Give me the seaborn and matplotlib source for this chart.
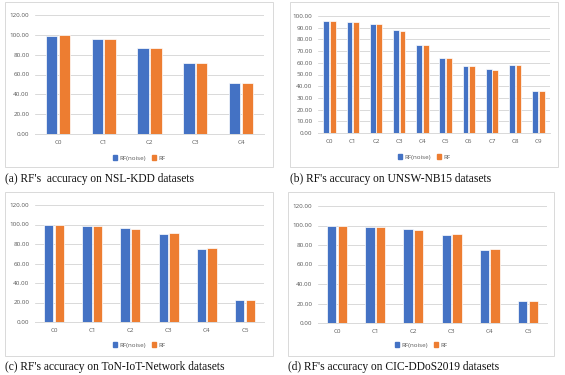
import seaborn as sns
import matplotlib.pyplot as plt
import pandas as pd
from matplotlib.patches import Rectangle, Patch

# accuracy per class
nsl_classes = ['C0', 'C1', 'C2', 'C3', 'C4']
nsl_noise = [99.0, 96.0, 86.8, 72.0, 51.8]
nsl_rf = [99.7, 96.0, 86.8, 72.0, 51.8]

unsw_classes = ['C0', 'C1', 'C2', 'C3', 'C4', 'C5', 'C6', 'C7', 'C8', 'C9']
unsw_noise = [95.5, 95.0, 93.3, 88.1, 75.6, 64.1, 57.6, 54.4, 58.4, 36.0]
unsw_rf = [95.5, 94.7, 93.2, 87.6, 75.2, 64.2, 57.6, 54.2, 58.5, 36.0]

ton_classes = ['C0', 'C1', 'C2', 'C3', 'C4', 'C5']
ton_noise = [99.9, 98.0, 96.0, 90.2, 74.8, 22.6]
ton_rf = [99.9, 98.0, 95.6, 91.2, 76.2, 22.6]

cic_classes = ['C0', 'C1', 'C2', 'C3', 'C4', 'C5']
cic_noise = [99.9, 98.0, 96.0, 90.0, 74.8, 22.6]
cic_rf = [99.9, 98.3, 95.6, 91.2, 76.3, 22.6]

series_names = ['RF(noise)', 'RF']
captions = ["(a) RF's  accuracy on NSL-KDD datasets",
            "(b) RF's accuracy on UNSW-NB15 datasets",
            "(c) RF's accuracy on ToN-IoT-Network datasets",
            "(d) RF's accuracy on CIC-DDoS2019 datasets"]

BLUE, ORANGE = '#4472C4', '#ED7D31'
GRID = '#D9D9D9'
TXT = '#595959'
W, H = 565, 375

sns.set_theme(style='white')
plt.rcParams['font.family'] = ['Open Sans', 'DejaVu Sans']

fig = plt.figure(figsize=(W / 100, H / 100), dpi=100)


def px_box(l, t, r, b):
    # pixel box (top-left origin) -> figure fraction
    return [l / W, 1 - b / H, (r - l) / W, (b - t) / H]


panels = [
    (nsl_classes, nsl_noise, nsl_rf, 120, 20, (35, 15, 264, 134), (5, 2, 273, 167), 158, 179),
    (unsw_classes, unsw_noise, unsw_rf, 100, 10, (318, 16, 550, 133), (290, 2, 558, 167), 157, 179),
    (ton_classes, ton_noise, ton_rf, 120, 20, (35, 205, 264, 322), (5, 192, 273, 356), 345, 367),
    (cic_classes, cic_noise, cic_rf, 120, 20, (318, 206, 547, 323), (288, 192, 554, 356), 345, 367),
]

for i, (cats, noise, rf, ymax, step, abox, frame, leg_y, cap_y) in enumerate(panels):
    df = pd.DataFrame({
        'cls': cats * 2,
        'acc': noise + rf,
        'model': [series_names[0]] * len(cats) + [series_names[1]] * len(cats),
    })
    ax = fig.add_axes(px_box(*abox))
    sns.barplot(data=df, x='cls', y='acc', hue='model', palette=[BLUE, ORANGE],
                saturation=1, width=0.56, gap=0.12, edgecolor='white',
                linewidth=0.5, legend=False, ax=ax, zorder=3)
    ax.set_ylim(0, ymax)
    ax.set_yticks(range(0, ymax + 1, step))
    ax.set_yticklabels([f'{v:.2f}' for v in range(0, ymax + 1, step)])
    ax.yaxis.grid(True, color=GRID, lw=0.7, zorder=0)
    ax.set_axisbelow(True)
    for s in ['top', 'right', 'left']:
        ax.spines[s].set_visible(False)
    ax.spines['bottom'].set_color(GRID)
    ax.spines['bottom'].set_linewidth(0.7)
    ax.tick_params(axis='both', labelsize=4.5, colors=TXT, length=0, pad=4)
    ax.set_xlabel('')
    ax.set_ylabel('')

    # outer chart frame
    l, t, r, b = frame
    fig.add_artist(Rectangle((l / W, 1 - b / H), (r - l) / W, (b - t) / H,
                             transform=fig.transFigure, fill=False,
                             edgecolor=GRID, lw=0.7))

    handles = [Patch(color=BLUE), Patch(color=ORANGE)]
    ax.legend(handles, series_names, loc='center',
              bbox_to_anchor=((l + r) / 2 / W, 1 - leg_y / H),
              bbox_transform=fig.transFigure, ncol=2, frameon=False,
              fontsize=4.5, labelcolor=TXT, handlelength=0.7, handleheight=0.7,
              handletextpad=0.3, columnspacing=1.0)

    fig.text(l / W, 1 - cap_y / H, captions[i], ha='left', va='center',
             fontsize=8.3, family=['Liberation Serif'], color='#111111')

fig.savefig('out.png', dpi=100)
